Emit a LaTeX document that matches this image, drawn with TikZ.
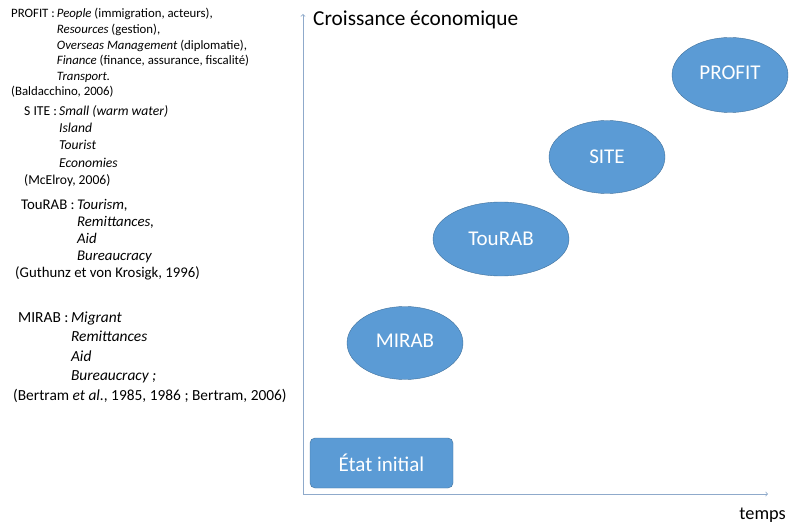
\documentclass[tikz,border=0pt]{standalone}
\usepackage{fontspec}
\setmainfont{Carlito}
\usepackage{tikz}
\usetikzlibrary{positioning,shapes.geometric}

\definecolor{bulle}{HTML}{5B9BD5}
\definecolor{bord}{HTML}{41719C}
\definecolor{axe}{HTML}{8FAACB}

\begin{document}
\begin{tikzpicture}[
		x=1pt, y=-1pt
		,every node/.append style={inner sep=0pt}
		,bloc/.style={anchor=base west, align=left}
		,etape/.style={ellipse, draw=bord, fill=bulle, text=white, font=\fontsize{21}{24}\selectfont}
		,axis/.style={draw=axe, line width=.8pt, -to}
	]
		\useasboundingbox (0,0) rectangle (791,526);
		% les modeles
		\node [bloc] (profit) at (11,18) {\fontsize{12.8}{15.6}\selectfont
			\begin{tabular}[t]{@{}l@{\,}l@{}}
				PROFIT : & \textit{People} (immigration, acteurs),\\
				& \textit{Resources} (gestion),\\
				& \textit{Overseas Management} (diplomatie),\\
				& \textit{Finance} (finance, assurance, fiscalité)\\
				& \textit{Transport.}\\
				\multicolumn{2}{@{}l@{}}{(Baldacchino, 2006)}
			\end{tabular}};
		\node [bloc] (site) at (24,115.5) {\fontsize{13.6}{17.2}\selectfont
			\begin{tabular}[t]{@{}l@{\,}l@{}}
				S ITE : & \textit{Small (warm water)}\\
				& \textit{Island}\\
				& \textit{Tourist}\\
				& \textit{Economies}\\
				\multicolumn{2}{@{}l@{}}{(McElroy, 2006)}
			\end{tabular}};
		\node [bloc] (tourab) at (21,209.5) {\fontsize{14.8}{17}\selectfont
			\begin{tabular}[t]{@{}l@{\,}l@{}}
				TouRAB : & \textit{Tourism,}\\
				& \textit{Remittances,}\\
				& \textit{Aid}\\
				& \textit{Bureaucracy}\\
				\multicolumn{2}{@{}l@{}}{\hspace*{-6pt}(Guthunz et von Krosigk, 1996)}
			\end{tabular}};
		\node [bloc] (mirab) at (18,322) {\fontsize{15.4}{19.5}\selectfont
			\begin{tabular}[t]{@{}l@{\,}l@{}}
				MIRAB : & \textit{Migrant}\\
				& \textit{Remittances}\\
				& \textit{Aid}\\
				& \textit{Bureaucracy ;}\\
				\multicolumn{2}{@{}l@{}}{\hspace*{-5pt}(Bertram \textit{et al.}, 1985, 1986 ; Bertram, 2006)}
			\end{tabular}};
		% axes
		\coordinate (O) at (303,494);
		\coordinate (haut) at (303,14);
		\coordinate (droite) at (768,494);
		\draw [axis] (O) -- (haut);
		\draw [axis] (O) -- (droite);
		\node [anchor=west, font=\fontsize{21.3}{24}\selectfont] (croissance) at (313,20) {Croissance économique};
		\node [anchor=east, font=\fontsize{18.3}{20}\selectfont] (temps) at (786,515) {temps};
		% etapes
		\node [draw=bord, fill=bulle, text=white, rounded corners=5pt, minimum width=143pt, minimum height=50pt, font=\fontsize{21}{24}\selectfont] (etat) at (381.5,463) {État initial};
		\node [etape, minimum width=116pt, minimum height=73pt] (MIRAB) at (405,343) {\raisebox{4pt}{MIRAB}};
		\node [etape, minimum width=136pt, minimum height=74pt] (TouRAB) at (501,239) {TouRAB};
		\node [etape, minimum width=116pt, minimum height=73pt] (SITE) at (607,157) {SITE};
		\node [etape, minimum width=116pt, minimum height=75pt] (PROFIT) at (730,75) {\raisebox{4pt}{PROFIT}};
	\end{tikzpicture}
\end{document}
